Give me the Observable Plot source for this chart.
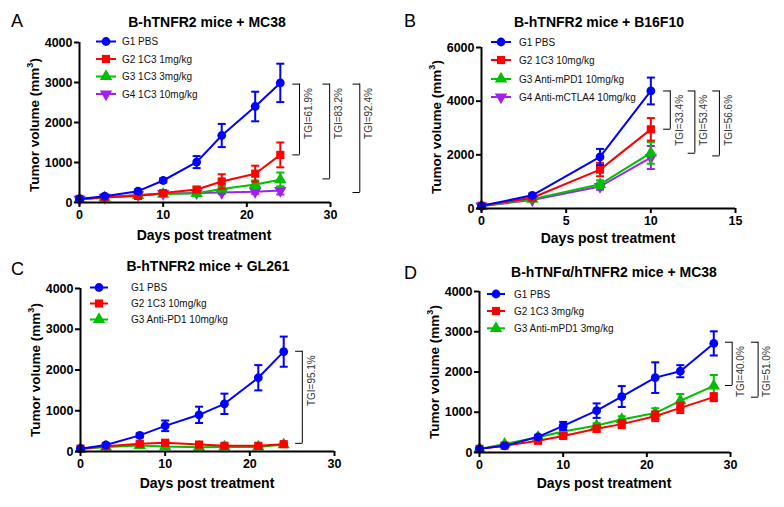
<!DOCTYPE html>
<html><head><meta charset="utf-8">
<script src="https://cdn.jsdelivr.net/npm/d3@7"></script>
<script src="https://cdn.jsdelivr.net/npm/@observablehq/plot@0.6"></script>
<style>
body{margin:0;background:#fff;width:784px;height:507px;position:relative;overflow:hidden;font-family:"Liberation Sans",Arial,sans-serif}
.panel{position:absolute}
svg{overflow:visible}
</style></head><body>
<div id="pA" class="panel" style="left:0;top:0"></div>
<div id="pB" class="panel" style="left:392px;top:0"></div>
<div id="pC" class="panel" style="left:0;top:250px"></div>
<div id="pD" class="panel" style="left:392px;top:250px"></div>
<script>
// ---------------- DATA ----------------
// Panel A: B-hTNFR2 mice + MC38
const daysA = [0, 3, 7, 10, 14, 17, 21, 24];
const namesA = ["G1 PBS", "G2 1C3 1mg/kg", "G3 1C3 3mg/kg", "G4 1C3 10mg/kg"];
const a_g1 = [90, 158, 283, 550, 1010, 1675, 2400, 2990];
const a_g1_err = [20, 30, 40, 50, 150, 290, 370, 480];
const a_g2 = [90, 130, 165, 235, 325, 525, 720, 1190];
const a_g2_err = [20, 20, 30, 30, 60, 180, 200, 310];
const a_g3 = [80, 120, 180, 210, 230, 340, 450, 570];
const a_g3_err = [15, 15, 20, 20, 30, 60, 100, 180];
const a_g4 = [80, 130, 190, 220, 240, 250, 270, 300];
const a_g4_err = [15, 15, 20, 20, 30, 40, 60, 100];
const tgiA = ["TGI=61.9%", "TGI=83.2%", "TGI=92.4%"];
const tgiA_top = [2960, 2960, 2960];
const tgiA_bottom = [1190, 590, 250];
const tgiA_x = [26.3, 29.9, 33.5];

// Panel B: B-hTNFR2 mice + B16F10
const daysB = [0, 3, 7, 10];
const namesB = ["G1 PBS", "G2 1C3 10mg/kg", "G3 Anti-mPD1 10mg/kg", "G4 Anti-mCTLA4 10mg/kg"];
const b_g1 = [100, 490, 1920, 4380];
const b_g1_err = [20, 60, 300, 500];
const b_g2 = [100, 400, 1450, 2950];
const b_g2_err = [20, 50, 250, 420];
const b_g3 = [90, 350, 900, 2070];
const b_g3_err = [20, 40, 150, 400];
const b_g4 = [90, 320, 820, 1900];
const b_g4_err = [20, 40, 120, 430];
const tgiB = ["TGI=33.4%", "TGI=53.4%", "TGI=56.6%"];
const tgiB_top = [4380, 4380, 4380];
const tgiB_bottom = [2955, 2060, 1960];
const tgiB_x = [11.15, 12.6, 14.05];

// Panel C: B-hTNFR2 mice + GL261
const daysC = [0, 3, 7, 10, 14, 17, 21, 24];
const namesC = ["G1 PBS", "G2 1C3 10mg/kg", "G3 Anti-PD1 10mg/kg"];
const c_g1 = [70, 160, 395, 630, 900, 1170, 1810, 2450];
const c_g1_err = [20, 30, 50, 130, 200, 250, 310, 370];
const c_g2 = [70, 130, 190, 215, 170, 140, 140, 180];
const c_g2_err = [15, 20, 40, 40, 30, 30, 30, 30];
const c_g3 = [60, 110, 150, 120, 105, 110, 110, 170];
const c_g3_err = [15, 20, 30, 30, 20, 20, 20, 30];
const tgiC = ["TGI=95.1%"];
const tgiC_top = [2460];
const tgiC_bottom = [200];
const tgiC_x = [26.2];

// Panel D: B-hTNFα/hTNFR2 mice + MC38
const daysD = [0, 3, 7, 10, 14, 17, 21, 24, 28];
const namesD = ["G1 PBS", "G2 1C3 3mg/kg", "G3 Anti-mPD1 3mg/kg"];
const d_g1 = [90, 165, 390, 660, 1040, 1390, 1860, 2020, 2710];
const d_g1_err = [20, 30, 40, 100, 180, 260, 380, 150, 300];
const d_g2 = [90, 170, 290, 410, 590, 705, 900, 1110, 1375];
const d_g2_err = [20, 20, 40, 50, 80, 100, 120, 130, 100];
const d_g3 = [90, 210, 380, 520, 670, 820, 980, 1285, 1655];
const d_g3_err = [20, 30, 40, 50, 60, 80, 120, 170, 270];
const tgiD = ["TGI=40.0%", "TGI=51.0%"];
const tgiD_top = [2740, 2740];
const tgiD_bottom = [1665, 1375];
const tgiD_x = [30.2, 33.3];

// ---------------- STYLE ----------------
const COLORS = ["#0000ff", "#ff0000", "#00c000", "#a020f0"];
const invTriangle = {draw(ctx, size) {
  const s3 = Math.sqrt(3), y = -Math.sqrt(size / (s3 * 3));
  ctx.moveTo(0, -y * 2); ctx.lineTo(-s3 * y, y); ctx.lineTo(s3 * y, y); ctx.closePath();
}};
const SYMBOLS = ["circle", "square", "triangle", invTriangle];
const capSym = {draw(ctx, size) { const w = Math.sqrt(size / Math.PI); ctx.moveTo(-w, 0); ctx.lineTo(w, 0); }};
const leftTick = {draw(ctx, size) { const w = Math.sqrt(size / Math.PI); ctx.moveTo(-2 * w, 0); ctx.lineTo(0, 0); }};
const FONT = "Liberation Sans, Arial, sans-serif";

function makePanel(cfg) {
  const [mL, mR, mT, mB] = cfg.margins;
  const series = cfg.names.map((name, i) => cfg.days.map((x, j) => ({s: name, x, y: cfg.means[i][j], e: cfg.errs[i][j]})));
  const brackets = cfg.tgi.map((label, i) => ({label, x: cfg.tgiX[i], top: cfg.tgiTop[i], bottom: cfg.tgiBottom[i]}));
  const ends = brackets.flatMap(b => [{x: b.x, y: b.top}, {x: b.x, y: b.bottom}]);
  const marks = [];
  // draw last group first so G1 sits on top
  for (let i = series.length - 1; i >= 0; i--) {
    const d = series[i], c = COLORS[i];
    marks.push(
      Plot.line(d, {x: "x", y: "y", stroke: c, strokeWidth: 2}),
      Plot.ruleX(d, {x: "x", y1: r => r.y - r.e, y2: r => r.y + r.e, stroke: c, strokeWidth: 2}),
      Plot.dot(d, {x: "x", y: r => r.y + r.e, symbol: capSym, r: 4, stroke: c, strokeWidth: 2, fill: "none"}),
      Plot.dot(d, {x: "x", y: r => r.y - r.e, symbol: capSym, r: 4, stroke: c, strokeWidth: 2, fill: "none"}),
      Plot.dot(d, {x: "x", y: "y", symbol: SYMBOLS[i], r: i === 0 ? 4.4 : 4.6, fill: c, stroke: "none"})
    );
  }
  marks.push(
    Plot.ruleX(brackets, {x: "x", y1: "top", y2: "bottom", stroke: "#000", strokeWidth: 1}),
    Plot.dot(ends, {x: "x", y: "y", symbol: leftTick, r: 3.6, stroke: "#000", strokeWidth: 1, fill: "none"}),
    Plot.text(brackets, {x: "x", y: "top", text: "label", rotate: -90, textAnchor: "end", dx: 9, dy: 4, fontSize: 10, fill: "#333", fontFamily: FONT}),
    Plot.ruleX([cfg.xDomain[0]], {stroke: "#000", strokeWidth: 2}),
    Plot.ruleY([cfg.yDomain[0]], {stroke: "#000", strokeWidth: 2}),
    Plot.axisY({ticks: cfg.yTicks, tickSize: 5, tickPadding: 2, strokeWidth: 2, fontSize: 12.5, fontWeight: "bold", fill: "#000", label: null, tickFormat: d => String(d)}),
    Plot.axisX({ticks: cfg.xTicks, tickSize: 5, tickPadding: 3, strokeWidth: 2, fontSize: 12.5, fontWeight: "bold", fill: "#000", label: null, tickFormat: d => String(d)})
  );
  const svg = Plot.plot({
    width: cfg.w, height: cfg.h,
    marginLeft: mL, marginRight: mR, marginTop: mT, marginBottom: mB,
    style: {fontFamily: FONT, background: "transparent", overflow: "visible"},
    x: {domain: cfg.xDomain},
    y: {domain: cfg.yDomain},
    marks
  });
  const s = d3.select(svg);
  // panel letter
  s.append("text").attr("x", cfg.letter[1]).attr("y", cfg.letter[2]).attr("text-anchor", "start").attr("font-size", 18)
    .attr("font-family", FONT).attr("fill", "#000").text(cfg.letter[0]);
  // title
  s.append("text").attr("x", cfg.titlePos[0]).attr("y", cfg.titlePos[1]).attr("text-anchor", "middle")
    .attr("font-size", 14).attr("font-weight", "bold").attr("font-family", FONT).attr("fill", "#000").text(cfg.title);
  // x label
  s.append("text").attr("x", cfg.xlabPos[0]).attr("y", cfg.xlabPos[1]).attr("text-anchor", "middle")
    .attr("font-size", 14).attr("font-weight", "bold").attr("font-family", FONT).attr("fill", "#000").text("Days post treatment");
  // y label with superscript
  const yl = s.append("text").attr("transform", `translate(${mL - 40},${cfg.ylabY}) rotate(-90)`).attr("text-anchor", "middle")
    .attr("font-size", 13.5).attr("font-weight", "bold").attr("font-family", FONT).attr("fill", "#000");
  yl.append("tspan").text("Tumor volume (mm");
  yl.append("tspan").attr("font-size", 9).attr("dy", -6).text("3");
  yl.append("tspan").attr("dy", 6).text(")");
  // legend
  const L = cfg.legend;
  cfg.names.forEach((name, i) => {
    const y = L.rows[i], c = COLORS[i];
    const g = s.append("g");
    g.append("line").attr("x1", L.x0).attr("x2", L.x1).attr("y1", y).attr("y2", y).attr("stroke", c).attr("stroke-width", 2);
    const sym = typeof SYMBOLS[i] === "string" ? {circle: d3.symbolCircle, square: d3.symbolSquare, triangle: d3.symbolTriangle}[SYMBOLS[i]] : SYMBOLS[i];
    const r = i === 0 ? 4.4 : 4.6;
    g.append("path").attr("d", d3.symbol(sym, Math.PI * r * r)()).attr("transform", `translate(${L.m},${y})`).attr("fill", c);
    g.append("text").attr("x", L.t).attr("y", y).attr("dy", "0.35em").attr("text-anchor", "start").attr("font-size", 10).attr("font-family", FONT).attr("fill", "#111").text(name);
  });
  document.getElementById(cfg.id).appendChild(svg);
}

makePanel({id: "pA", letter: ["A", 11, 27], title: "B-hTNFR2 mice + MC38", titlePos: [207, 27],
  w: 392, h: 250, margins: [79, 62, 42, 48], xDomain: [0, 30], xTicks: [0, 10, 20, 30], yDomain: [0, 4000], yTicks: [0, 1000, 2000, 3000, 4000],
  days: daysA, names: namesA, means: [a_g1, a_g2, a_g3, a_g4], errs: [a_g1_err, a_g2_err, a_g3_err, a_g4_err],
  tgi: tgiA, tgiTop: tgiA_top, tgiBottom: tgiA_bottom, tgiX: tgiA_x,
  xlabPos: [204, 240], ylabY: 125, legend: {x0: 96, x1: 116, m: 106, t: 122, rows: [41.5, 59, 76.5, 94]}});

makePanel({id: "pB", letter: ["B", 12, 27], title: "B-hTNFR2 mice + B16F10", titlePos: [207, 27],
  w: 392, h: 250, margins: [89, 49, 47, 42], xDomain: [0, 15], xTicks: [0, 5, 10, 15], yDomain: [0, 6000], yTicks: [0, 2000, 4000, 6000],
  days: daysB, names: namesB, means: [b_g1, b_g2, b_g3, b_g4], errs: [b_g1_err, b_g2_err, b_g3_err, b_g4_err],
  tgi: tgiB, tgiTop: tgiB_top, tgiBottom: tgiB_bottom, tgiX: tgiB_x,
  xlabPos: [216, 243], ylabY: 127, legend: {x0: 99, x1: 119, m: 109, t: 127, rows: [42, 60, 79, 97]}});

makePanel({id: "pC", letter: ["C", 11, 25], title: "B-hTNFR2 mice + GL261", titlePos: [208, 21],
  w: 392, h: 257, margins: [80, 58, 38, 56], xDomain: [0, 30], xTicks: [0, 10, 20, 30], yDomain: [0, 4000], yTicks: [0, 1000, 2000, 3000, 4000],
  days: daysC, names: namesC, means: [c_g1, c_g2, c_g3], errs: [c_g1_err, c_g2_err, c_g3_err],
  tgi: tgiC, tgiTop: tgiC_top, tgiBottom: tgiC_bottom, tgiX: tgiC_x,
  xlabPos: [207, 238], ylabY: 120, legend: {x0: 90, x1: 108, m: 99, t: 131, rows: [37.5, 53.5, 69.5]}});

makePanel({id: "pD", letter: ["D", 12, 29], title: "B-hTNFα/hTNFR2 mice + MC38", titlePos: [222, 27],
  w: 392, h: 257, margins: [87, 54, 41, 55], xDomain: [0, 30], xTicks: [0, 10, 20, 30], yDomain: [0, 4000], yTicks: [0, 1000, 2000, 3000, 4000],
  days: daysD, names: namesD, means: [d_g1, d_g2, d_g3], errs: [d_g1_err, d_g2_err, d_g3_err],
  tgi: tgiD, tgiTop: tgiD_top, tgiBottom: tgiD_bottom, tgiX: tgiD_x,
  xlabPos: [212, 238], ylabY: 122, legend: {x0: 95, x1: 113, m: 104, t: 122, rows: [44, 61, 78.3]}});
</script>
</body></html>
